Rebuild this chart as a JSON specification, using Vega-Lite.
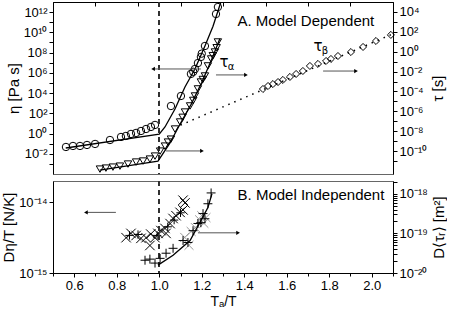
{
  "$schema": "https://vega.github.io/schema/vega-lite/v6.json",
  "padding": {"left": 1, "top": 0, "right": 0, "bottom": 0},
  "config": {
    "font": "Liberation Sans",
    "view": {"stroke": "#666", "strokeWidth": 1},
    "concat": {"spacing": 0},
    "axis": {"domainColor": "black", "tickColor": "black", "labelColor": "black", "titleColor": "black", "labelFontSize": 13, "titleFontSize": 15, "titleFontWeight": "normal", "grid": false, "tickSize": 4, "labelFont": "Liberation Sans", "titleFont": "Liberation Sans", "labelOverlap": false},
    "axisLeft": {"titlePadding": 2}
  },
  "resolve": {"scale": {"x": "independent"}, "axis": {"x": "independent"}},
  "datasets": {
    "circles": [
      {"x": 0.561, "eta": 0.0468}, {"x": 0.594, "eta": 0.0589}, {"x": 0.627, "eta": 0.0589}, {"x": 0.66, "eta": 0.0741}, {"x": 0.698, "eta": 0.0933},
      {"x": 0.768, "eta": 0.229}, {"x": 0.82, "eta": 0.457}, {"x": 0.843, "eta": 0.575}, {"x": 0.867, "eta": 0.912}, {"x": 0.891, "eta": 1.15},
      {"x": 0.914, "eta": 1.78}, {"x": 0.938, "eta": 2.82}, {"x": 0.961, "eta": 4.47}, {"x": 0.98, "eta": 7.08},
      {"x": 1.055, "eta": 525}, {"x": 1.102, "eta": 5130}, {"x": 1.149, "eta": 776000}, {"x": 1.16, "eta": 1260000}, {"x": 1.168, "eta": 2400000},
      {"x": 1.182, "eta": 9300000}, {"x": 1.196, "eta": 37000000}, {"x": 1.2, "eta": 79000000}, {"x": 1.215, "eta": 450000000},
      {"x": 1.267, "eta": 650000000000}, {"x": 1.276, "eta": 3200000000000}
    ],
    "etaLine": [
      {"x": 0.56, "eta": 0.0372}, {"x": 1.0, "eta": 0.891}, {"x": 1.027, "eta": 4.47}, {"x": 1.074, "eta": 269}, {"x": 1.121, "eta": 39800},
      {"x": 1.168, "eta": 2400000}, {"x": 1.215, "eta": 447000000}, {"x": 1.253, "eta": 39800000000}, {"x": 1.29, "eta": 10000000000000}
    ],
    "triangles": [
      {"x": 0.721, "tau": 1.55e-12}, {"x": 0.749, "tau": 1.95e-12}, {"x": 0.782, "tau": 2.45e-12}, {"x": 0.815, "tau": 3.09e-12}, {"x": 0.853, "tau": 5.0e-12},
      {"x": 0.891, "tau": 7.9e-12}, {"x": 0.924, "tau": 1.0e-11}, {"x": 0.956, "tau": 1.58e-11}, {"x": 0.98, "tau": 3.16e-11}, {"x": 1.004, "tau": 1.0e-10},
      {"x": 1.027, "tau": 3.2e-10}, {"x": 1.041, "tau": 8.1e-10}, {"x": 1.055, "tau": 1.6e-9}, {"x": 1.074, "tau": 1.66e-8}, {"x": 1.098, "tau": 8.5e-8},
      {"x": 1.11, "tau": 2.5e-7}, {"x": 1.121, "tau": 8.5e-7}, {"x": 1.145, "tau": 3.5e-6}, {"x": 1.16, "tau": 1.26e-5}, {"x": 1.168, "tau": 3.5e-5},
      {"x": 1.182, "tau": 1.8e-4}, {"x": 1.196, "tau": 8.9e-4}, {"x": 1.205, "tau": 1.6e-3}, {"x": 1.215, "tau": 3.6e-3}, {"x": 1.229, "tau": 0.037},
      {"x": 1.244, "tau": 0.186}, {"x": 1.252, "tau": 0.4}, {"x": 1.262, "tau": 0.93}, {"x": 1.27, "tau": 2.5}, {"x": 1.276, "tau": 9.5}
    ],
    "tauLine": [
      {"x": 0.72, "tau": 1.23e-12}, {"x": 0.994, "tau": 1.0e-11}, {"x": 1.05, "tau": 6.3e-10}, {"x": 1.1, "tau": 6.3e-8}, {"x": 1.15, "tau": 5.0e-6},
      {"x": 1.2, "tau": 7.9e-4}, {"x": 1.25, "tau": 0.25}, {"x": 1.285, "tau": 20}
    ],
    "betaLine": [{"x": 1.1, "tau": 4.1e-8}, {"x": 2.1, "tau": 63}],
    "diamonds": [
      {"x": 1.488, "tau": 1.78e-4}, {"x": 1.512, "tau": 3.55e-4}, {"x": 1.535, "tau": 5.6e-4}, {"x": 1.559, "tau": 8.9e-4}, {"x": 1.582, "tau": 1.45e-3},
      {"x": 1.615, "tau": 2.9e-3}, {"x": 1.644, "tau": 5.75e-3}, {"x": 1.676, "tau": 0.0115}, {"x": 1.709, "tau": 0.037}, {"x": 1.747, "tau": 0.059},
      {"x": 1.785, "tau": 0.117}, {"x": 1.808, "tau": 0.186}, {"x": 1.841, "tau": 0.37}, {"x": 1.902, "tau": 0.93}, {"x": 1.959, "tau": 3.0},
      {"x": 2.02, "tau": 12}, {"x": 2.09, "tau": 49}
    ],
    "arrowsA": [
      {"x": 0.971, "x2": 1.196, "eta": 2400000, "head": "left", "hx": 0.971},
      {"x": 1.267, "x2": 1.408, "eta": 620000, "head": "right", "hx": 1.408},
      {"x": 1.771, "x2": 1.926, "eta": 1500000, "head": "right", "hx": 1.926},
      {"x": 1.032, "x2": 1.201, "eta": 0.019, "head": "right", "hx": 1.201}
    ],
    "labelsA": [
      {"x": 1.305, "eta": 12000000, "t": "τ", "sub": "α"},
      {"x": 1.747, "eta": 450000000, "t": "τ", "sub": "β"}
    ],
    "titleA": [{"x": 1.69, "eta": 130000000000, "t": "A. Model Dependent"}],
    "xUpper": [
      {"x": 0.844, "d": 3.16e-15}, {"x": 0.867, "d": 3.63e-15}, {"x": 0.891, "d": 3.39e-15}, {"x": 0.914, "d": 3.09e-15}, {"x": 0.938, "d": 3.16e-15},
      {"x": 0.956, "d": 2.45e-15}, {"x": 0.96, "d": 3.55e-15}, {"x": 0.98, "d": 3.16e-15}, {"x": 0.994, "d": 3.63e-15}, {"x": 1.008, "d": 3.98e-15},
      {"x": 1.027, "d": 4.27e-15}, {"x": 1.032, "d": 3.63e-15}, {"x": 1.051, "d": 5.0e-15}, {"x": 1.065, "d": 5.9e-15}, {"x": 1.079, "d": 6.46e-15},
      {"x": 1.098, "d": 7.2e-15}, {"x": 1.112, "d": 7.8e-15}, {"x": 1.121, "d": 9.8e-15}, {"x": 1.112, "d": 1.07e-14}
    ],
    "plusUpper": [
      {"x": 0.86, "d": 3.4e-15}, {"x": 0.9, "d": 3.5e-15}, {"x": 0.99, "d": 3.4e-15}, {"x": 1.04, "d": 4.5e-15}, {"x": 1.07, "d": 5.6e-15}, {"x": 1.1, "d": 7.1e-15}
    ],
    "plusLower": [
      {"x": 0.933, "r": 2.1e-20}, {"x": 0.956, "r": 2.24e-20}, {"x": 0.98, "r": 1.78e-20}, {"x": 1.004, "r": 2.34e-20}, {"x": 1.032, "r": 3.16e-20},
      {"x": 1.065, "r": 4.2e-20}, {"x": 1.112, "r": 6.6e-20}, {"x": 1.135, "r": 5.9e-20}, {"x": 1.159, "r": 1.17e-19}, {"x": 1.182, "r": 1.78e-19},
      {"x": 1.196, "r": 1.86e-19}, {"x": 1.215, "r": 2.34e-19}, {"x": 1.206, "r": 3.16e-19}, {"x": 1.229, "r": 5.6e-19}, {"x": 1.244, "r": 1.05e-18}
    ],
    "grayLower": [
      {"x": 1.12, "r": 7.9e-20}, {"x": 1.14, "r": 5.0e-20}, {"x": 1.15, "r": 1.12e-19}, {"x": 1.17, "r": 1.4e-19}, {"x": 1.19, "r": 2.2e-19},
      {"x": 1.2, "r": 2.8e-19}, {"x": 1.21, "r": 1.8e-19}, {"x": 1.22, "r": 2.5e-19}
    ],
    "lowerLine": [
      {"x": 0.994, "r": 1.58e-20}, {"x": 1.065, "r": 2.8e-20}, {"x": 1.145, "r": 6.6e-20}, {"x": 1.196, "r": 2.1e-19}, {"x": 1.229, "r": 4.5e-19}, {"x": 1.248, "r": 1.0e-18}
    ],
    "arrowsB": [
      {"x": 0.655, "x2": 0.796, "d": 7.2e-15, "head": "left", "hx": 0.655},
      {"x": 1.182, "x2": 1.371, "d": 3.7e-15, "head": "right", "hx": 1.371}
    ],
    "titleB": [{"x": 1.714, "d": 1.26e-14, "t": "B. Model Independent"}]
  },
  "vconcat": [
    {
      "width": 340,
      "height": 172,
      "layer": [
        {
          "layer": [
            {
              "data": {"name": "circles"},
              "mark": {"type": "point", "shape": "circle", "filled": false, "stroke": "black", "strokeWidth": 1, "size": 55, "opacity": 1},
              "encoding": {
                "x": {"field": "x", "type": "quantitative", "scale": {"domain": [0.5, 2.1], "nice": false, "zero": false},
                      "axis": {"orient": "top", "values": [0.5,0.6,0.7,0.8,0.9,1.0,1.1,1.2,1.3,1.4,1.5,1.6,1.7,1.8,1.9,2.0,2.1], "labels": false, "tickSize": -4, "title": null}},
                "y": {"field": "eta", "type": "quantitative", "scale": {"type": "log", "domain": [0.0001, 10000000000000], "nice": false},
                      "axis": {"title": "η  [Pa s]", "values": [0.001,0.01,0.1,1,10,100,1000,10000,100000,1000000,10000000,100000000,1000000000,10000000000,100000000000,1000000000000],
                               "labelExpr": "(round(log(datum.value)/LN10) % 2 == 0) ? '10' + replace(replace(replace(replace(replace(replace(replace(replace(replace(replace(replace(toString(round(log(datum.value)/LN10)),'-','⁻'),regexp('0','g'),'⁰'),regexp('1','g'),'¹'),regexp('2','g'),'²'),regexp('3','g'),'³'),regexp('4','g'),'⁴'),regexp('5','g'),'⁵'),regexp('6','g'),'⁶'),regexp('7','g'),'⁷'),regexp('8','g'),'⁸'),regexp('9','g'),'⁹') : ''"}}
              }
            },
            {
              "data": {"name": "etaLine"},
              "mark": {"type": "line", "color": "black", "strokeWidth": 1.3, "clip": true},
              "encoding": {"x": {"field": "x", "type": "quantitative"}, "y": {"field": "eta", "type": "quantitative"}}
            },
            {
              "data": {"name": "circles"},
              "mark": {"type": "rule", "color": "#333", "strokeDash": [5, 4], "strokeWidth": 1},
              "encoding": {"x": {"datum": 1.0, "type": "quantitative"}}
            },
            {
              "data": {"name": "arrowsA"},
              "mark": {"type": "rule", "color": "#555", "strokeWidth": 1},
              "encoding": {"x": {"field": "x", "type": "quantitative"}, "x2": {"field": "x2"}, "y": {"field": "eta", "type": "quantitative"}}
            },
            {
              "data": {"name": "arrowsA"},
              "transform": [{"filter": "datum.head == 'left'"}],
              "mark": {"type": "point", "shape": "triangle-left", "filled": true, "color": "black", "size": 18, "opacity": 1},
              "encoding": {"x": {"field": "hx", "type": "quantitative"}, "y": {"field": "eta", "type": "quantitative"}}
            },
            {
              "data": {"name": "arrowsA"},
              "transform": [{"filter": "datum.head == 'right'"}],
              "mark": {"type": "point", "shape": "triangle-right", "filled": true, "color": "black", "size": 18, "opacity": 1},
              "encoding": {"x": {"field": "hx", "type": "quantitative"}, "y": {"field": "eta", "type": "quantitative"}}
            },
            {
              "data": {"name": "labelsA"},
              "mark": {"type": "text", "fontSize": 15, "font": "DejaVu Sans", "color": "black"},
              "encoding": {"x": {"field": "x", "type": "quantitative"}, "y": {"field": "eta", "type": "quantitative"}, "text": {"field": "t"}}
            },
            {
              "data": {"name": "labelsA"},
              "mark": {"type": "text", "fontSize": 10, "font": "DejaVu Sans", "color": "black", "dx": 7, "dy": 5},
              "encoding": {"x": {"field": "x", "type": "quantitative"}, "y": {"field": "eta", "type": "quantitative"}, "text": {"field": "sub"}}
            },
            {
              "data": {"name": "titleA"},
              "mark": {"type": "text", "fontSize": 15, "color": "black"},
              "encoding": {"x": {"field": "x", "type": "quantitative"}, "y": {"field": "eta", "type": "quantitative"}, "text": {"field": "t"}}
            }
          ]
        },
        {
          "layer": [
            {
              "data": {"name": "triangles"},
              "mark": {"type": "point", "shape": "triangle-down", "filled": false, "stroke": "black", "strokeWidth": 1, "size": 55, "opacity": 1},
              "encoding": {
                "x": {"field": "x", "type": "quantitative"},
                "y": {"field": "tau", "type": "quantitative", "scale": {"type": "log", "domain": [5e-13, 100000], "nice": false},
                      "axis": {"orient": "right", "title": "τ  [s]", "titleAngle": -90, "titleBaseline": "top",
                               "values": [1e-11,1e-10,1e-9,1e-8,1e-7,1e-6,1e-5,1e-4,0.001,0.01,0.1,1,10,100,1000,10000],
                               "labelExpr": "(round(log(datum.value)/LN10) % 2 == 0) ? '10' + replace(replace(replace(replace(replace(replace(replace(replace(replace(replace(replace(toString(round(log(datum.value)/LN10)),'-','⁻'),regexp('0','g'),'⁰'),regexp('1','g'),'¹'),regexp('2','g'),'²'),regexp('3','g'),'³'),regexp('4','g'),'⁴'),regexp('5','g'),'⁵'),regexp('6','g'),'⁶'),regexp('7','g'),'⁷'),regexp('8','g'),'⁸'),regexp('9','g'),'⁹') : ''"}}
              }
            },
            {
              "data": {"name": "tauLine"},
              "mark": {"type": "line", "color": "black", "strokeWidth": 1.3, "clip": true},
              "encoding": {"x": {"field": "x", "type": "quantitative"}, "y": {"field": "tau", "type": "quantitative"}}
            },
            {
              "data": {"name": "betaLine"},
              "mark": {"type": "line", "color": "black", "strokeWidth": 1.5, "strokeDash": [1.5, 5], "clip": true},
              "encoding": {"x": {"field": "x", "type": "quantitative"}, "y": {"field": "tau", "type": "quantitative"}}
            },
            {
              "data": {"name": "diamonds"},
              "mark": {"type": "point", "shape": "diamond", "filled": false, "stroke": "black", "strokeWidth": 1, "size": 50, "opacity": 1},
              "encoding": {"x": {"field": "x", "type": "quantitative"}, "y": {"field": "tau", "type": "quantitative"}}
            }
          ]
        }
      ],
      "resolve": {"scale": {"y": "independent"}}
    },
    {
      "width": 340,
      "height": 92,
      "layer": [
        {
          "layer": [
            {
              "data": {"name": "xUpper"},
              "mark": {"type": "point", "shape": "M-1,-1L1,1M-1,1L1,-1", "filled": false, "stroke": "black", "strokeWidth": 1, "size": 90, "opacity": 1},
              "encoding": {
                "x": {"field": "x", "type": "quantitative", "scale": {"domain": [0.5, 2.1], "nice": false, "zero": false},
                      "axis": {"orient": "bottom", "title": "Tₐ/T", "values": [0.6, 0.8, 1.0, 1.2, 1.4, 1.6, 1.8, 2.0], "format": ".1f",
                               "labelFlush": false, "labelPadding": 2, "titlePadding": 2, "titleFontSize": 14}},
                "y": {"field": "d", "type": "quantitative", "scale": {"type": "log", "domain": [1e-15, 2e-14], "nice": false},
                      "axis": {"title": "Dη/T  [N/K]", "values": [1e-15, 1e-14],
                               "labelExpr": "'10' + replace(replace(replace(replace(replace(replace(replace(replace(replace(replace(replace(toString(round(log(datum.value)/LN10)),'-','⁻'),regexp('0','g'),'⁰'),regexp('1','g'),'¹'),regexp('2','g'),'²'),regexp('3','g'),'³'),regexp('4','g'),'⁴'),regexp('5','g'),'⁵'),regexp('6','g'),'⁶'),regexp('7','g'),'⁷'),regexp('8','g'),'⁸'),regexp('9','g'),'⁹')"}}
              }
            },
            {
              "data": {"name": "plusUpper"},
              "mark": {"type": "point", "shape": "M-1,0L1,0M0,-1L0,1", "filled": false, "stroke": "black", "strokeWidth": 1, "size": 70, "opacity": 1},
              "encoding": {"x": {"field": "x", "type": "quantitative"}, "y": {"field": "d", "type": "quantitative"}}
            },
            {
              "data": {"name": "xUpper"},
              "mark": {"type": "rule", "color": "#333", "strokeDash": [5, 4], "strokeWidth": 1},
              "encoding": {"x": {"datum": 1.0, "type": "quantitative"}}
            },
            {
              "data": {"name": "arrowsB"},
              "mark": {"type": "rule", "color": "#555", "strokeWidth": 1},
              "encoding": {"x": {"field": "x", "type": "quantitative"}, "x2": {"field": "x2"}, "y": {"field": "d", "type": "quantitative"}}
            },
            {
              "data": {"name": "arrowsB"},
              "transform": [{"filter": "datum.head == 'left'"}],
              "mark": {"type": "point", "shape": "triangle-left", "filled": true, "color": "black", "size": 18, "opacity": 1},
              "encoding": {"x": {"field": "hx", "type": "quantitative"}, "y": {"field": "d", "type": "quantitative"}}
            },
            {
              "data": {"name": "arrowsB"},
              "transform": [{"filter": "datum.head == 'right'"}],
              "mark": {"type": "point", "shape": "triangle-right", "filled": true, "color": "black", "size": 18, "opacity": 1},
              "encoding": {"x": {"field": "hx", "type": "quantitative"}, "y": {"field": "d", "type": "quantitative"}}
            },
            {
              "data": {"name": "titleB"},
              "mark": {"type": "text", "fontSize": 15, "color": "black"},
              "encoding": {"x": {"field": "x", "type": "quantitative"}, "y": {"field": "d", "type": "quantitative"}, "text": {"field": "t"}}
            }
          ]
        },
        {
          "layer": [
            {
              "data": {"name": "grayLower"},
              "mark": {"type": "point", "shape": "M-1,-1L1,1M-1,1L1,-1", "filled": false, "stroke": "#999", "strokeWidth": 1, "size": 80, "opacity": 1},
              "encoding": {
                "x": {"field": "x", "type": "quantitative",
                      "axis": {"orient": "bottom", "values": [0.5,0.7,0.9,1.1,1.3,1.5,1.7,1.9,2.1], "labels": false, "title": null, "domain": false, "tickSize": 3}},
                "y": {"field": "r", "type": "quantitative", "scale": {"type": "log", "domain": [1e-20, 2.1e-18], "nice": false},
                      "axis": {"orient": "right", "title": "D⟨τᵣ⟩  [m²]", "titleAngle": -90, "titleBaseline": "top",
                               "values": [1e-20,2e-20,3e-20,4e-20,5e-20,6e-20,7e-20,8e-20,9e-20,1e-19,2e-19,3e-19,4e-19,5e-19,6e-19,7e-19,8e-19,9e-19,1e-18,2e-18],
                               "labelExpr": "abs(log(datum.value)/LN10 - round(log(datum.value)/LN10)) < 0.001 ? '10' + replace(replace(replace(replace(replace(replace(replace(replace(replace(replace(replace(toString(round(log(datum.value)/LN10)),'-','⁻'),regexp('0','g'),'⁰'),regexp('1','g'),'¹'),regexp('2','g'),'²'),regexp('3','g'),'³'),regexp('4','g'),'⁴'),regexp('5','g'),'⁵'),regexp('6','g'),'⁶'),regexp('7','g'),'⁷'),regexp('8','g'),'⁸'),regexp('9','g'),'⁹') : ''"}}
              }
            },
            {
              "data": {"name": "plusLower"},
              "mark": {"type": "point", "shape": "M-1,0L1,0M0,-1L0,1", "filled": false, "stroke": "black", "strokeWidth": 1, "size": 80, "opacity": 1},
              "encoding": {"x": {"field": "x", "type": "quantitative"}, "y": {"field": "r", "type": "quantitative"}}
            },
            {
              "data": {"name": "lowerLine"},
              "mark": {"type": "line", "color": "black", "strokeWidth": 1.3, "clip": true},
              "encoding": {"x": {"field": "x", "type": "quantitative"}, "y": {"field": "r", "type": "quantitative"}}
            }
          ]
        }
      ],
      "resolve": {"scale": {"y": "independent"}, "axis": {"x": "independent"}}
    }
  ]
}
